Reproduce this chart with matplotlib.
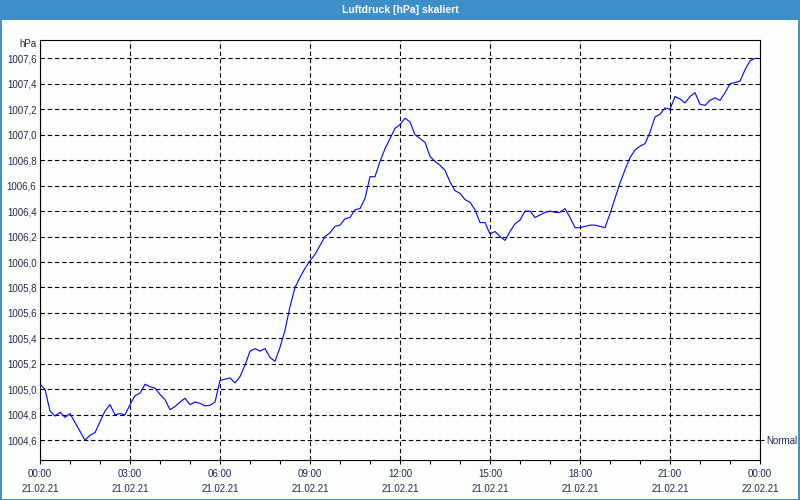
import numpy as np
import matplotlib
matplotlib.use("Agg")
import matplotlib.pyplot as plt
from matplotlib.patches import Rectangle
from matplotlib.ticker import FixedLocator, FuncFormatter

# ---- data ----
title = "Luftdruck [hPa] skaliert"
unit_label = "hPa"
sample_minutes = 10
pressure = [
    1005.04, 1005.00, 1004.83, 1004.79, 1004.82, 1004.78, 1004.81, 1004.74, 1004.67, 1004.60,
    1004.64, 1004.66, 1004.745, 1004.83, 1004.88, 1004.80, 1004.81, 1004.80, 1004.88, 1004.95,
    1004.97, 1005.04, 1005.02, 1005.01, 1004.96, 1004.92, 1004.84, 1004.865, 1004.90, 1004.93,
    1004.88, 1004.90, 1004.89, 1004.87, 1004.875, 1004.90, 1005.07, 1005.08, 1005.09, 1005.05,
    1005.10, 1005.19, 1005.30, 1005.32, 1005.30, 1005.32, 1005.25, 1005.22, 1005.33, 1005.465,
    1005.65, 1005.80, 1005.88, 1005.95, 1006.01, 1006.06, 1006.13, 1006.20, 1006.23, 1006.28,
    1006.29, 1006.34, 1006.35, 1006.41, 1006.42, 1006.50, 1006.67, 1006.67, 1006.79, 1006.89,
    1006.97, 1007.05, 1007.08, 1007.13, 1007.10, 1007.00, 1006.97, 1006.94, 1006.83, 1006.79,
    1006.76, 1006.72, 1006.63, 1006.56, 1006.54, 1006.49, 1006.47, 1006.41, 1006.31, 1006.31,
    1006.22, 1006.24, 1006.20, 1006.17, 1006.24, 1006.30, 1006.33, 1006.40, 1006.40, 1006.35,
    1006.37, 1006.39, 1006.40, 1006.39, 1006.39, 1006.42, 1006.35, 1006.27, 1006.27, 1006.28,
    1006.29, 1006.29, 1006.28, 1006.27, 1006.38, 1006.50, 1006.62, 1006.725, 1006.82, 1006.88,
    1006.91, 1006.93, 1007.02, 1007.14, 1007.16, 1007.21, 1007.20, 1007.30, 1007.28, 1007.25,
    1007.30, 1007.33, 1007.24, 1007.23, 1007.27, 1007.29, 1007.27, 1007.33, 1007.40, 1007.41,
    1007.42, 1007.51, 1007.58, 1007.60,
]
x_tick_hours = [0, 3, 6, 9, 12, 15, 18, 21, 24]
x_tick_labels = ["00:00\n21.02.21", "03:00\n21.02.21", "06:00\n21.02.21", "09:00\n21.02.21",
                 "12:00\n21.02.21", "15:00\n21.02.21", "18:00\n21.02.21", "21:00\n21.02.21",
                 "00:00\n22.02.21"]
y_ticks = [1004.6, 1004.8, 1005.0, 1005.2, 1005.4, 1005.6, 1005.8, 1006.0,
           1006.2, 1006.4, 1006.6, 1006.8, 1007.0, 1007.2, 1007.4, 1007.6]
normal_value = 1004.6
normal_label = "Normal"

hours = np.arange(len(pressure)) * sample_minutes / 60.0

# ---- style ----
W, H = 800, 500
bg = "#fcfefc"
bar_blue = "#3c8fc7"
text_col = "#1f2a48"
fs = 7
plt.rcParams["font.family"] = ["Liberation Sans", "DejaVu Sans"]

fig = plt.figure(figsize=(W / 100, H / 100), dpi=100, facecolor=bg)

# title bar and frame
fig.patches.append(Rectangle((0, 1 - 20 / H), 1, 20 / H, transform=fig.transFigure,
                             facecolor=bar_blue, edgecolor="none", zorder=0))
fig.patches.append(Rectangle((0.5 / W, 0.5 / H), 1 - 1.5 / W, 1 - 1 / H, transform=fig.transFigure,
                             facecolor="none", edgecolor=bar_blue, linewidth=1.4, zorder=0))
fig.text(0.5, 1 - 10 / H, title, ha="center", va="center", color="white",
         fontsize=7.5, fontweight="bold")

ax = fig.add_axes([40 / W, 40 / H, 720 / W, 420 / H])
ax.set_facecolor(bg)
ax.plot(hours, pressure, color="#0000ff", linewidth=0.8, zorder=3)

ax.set_xlim(0, 24)
ax.set_ylim(1004.445, 1007.744)

ax.xaxis.set_major_locator(FixedLocator(x_tick_hours))
ax.set_xticklabels(x_tick_labels, fontsize=fs, color=text_col, linespacing=1.65)
ax.xaxis.set_minor_locator(FixedLocator(list(range(0, 25))))
ax.tick_params(axis="x", which="both", direction="out", length=3, width=0.8,
               color="black", pad=3.5)

ax.yaxis.set_major_locator(FixedLocator(y_ticks))
ax.yaxis.set_major_formatter(FuncFormatter(lambda v, p: f"{v:.1f}".replace(".", ",")))
ax.tick_params(axis="y", which="both", length=0, pad=2.5, labelsize=fs, labelcolor=text_col)

grid_style = dict(color="black", linewidth=0.8, linestyle=(0, (4, 2.5)))
ax.grid(axis="y", which="major", **grid_style)
ax.grid(axis="x", which="major", **grid_style)
ax.grid(axis="x", which="minor", visible=False)
ax.set_axisbelow(True)

for s in ax.spines.values():
    s.set_color("black")
    s.set_linewidth(0.8)

# right axis with "Normal" marker
ax2 = ax.twinx()
ax2.set_ylim(ax.get_ylim())
ax2.set_yticks([normal_value])
ax2.set_yticklabels([normal_label], fontsize=fs, color=text_col)
ax2.tick_params(axis="y", direction="out", length=3, width=0.8, pad=1.5)
for s in ax2.spines.values():
    s.set_visible(False)

fig.text(37 / W, 1 - 44 / H, unit_label, ha="right", va="center", fontsize=fs, color=text_col)

fig.savefig("out.png", dpi=100, facecolor=bg)
